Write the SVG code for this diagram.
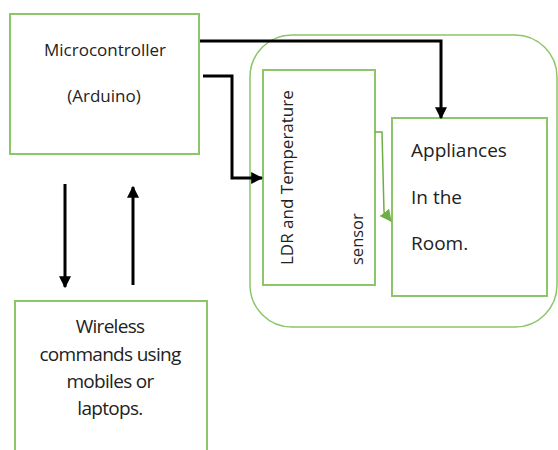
<svg xmlns="http://www.w3.org/2000/svg" width="558" height="450" viewBox="0 0 558 450">
<defs>
<style>
.box{fill:#fff;stroke:#8cc56a;stroke-width:2}
.t{font-family:"Open Sans","Liberation Sans",sans-serif;fill:#222}
.c{fill:none;stroke:#000;stroke-width:3}
</style>
<marker id="ah" viewBox="0 0 10 10" refX="9" refY="5" markerWidth="4" markerHeight="4" orient="auto" markerUnits="strokeWidth">
<path d="M0,0 L10,5 L0,10 z" fill="#000"/>
</marker>
<marker id="gh" viewBox="0 0 10 10" refX="9" refY="5" markerWidth="8" markerHeight="8" orient="auto" markerUnits="strokeWidth">
<path d="M0,0 L10,5 L0,10 z" fill="#70ad47"/>
</marker>
</defs>
<rect width="558" height="450" fill="#fff"/>
<g id="room">
<rect x="250" y="35" width="307" height="292" rx="42" ry="42" fill="#fff" stroke="#8cc56a" stroke-width="1.5"/>
</g>
<g id="microcontroller">
<rect class="box" x="10" y="14" width="189" height="140"/>
<text class="t" x="105" y="56" font-size="17" text-anchor="middle">Microcontroller</text>
<text class="t" x="104" y="102" font-size="17" text-anchor="middle">(Arduino)</text>
</g>
<g id="sensor">
<rect class="box" x="263" y="70" width="112" height="215"/>
<text class="t" font-size="17" transform="translate(293,265) rotate(-90)">LDR and Temperature</text>
<text class="t" font-size="16.5" transform="translate(363,265) rotate(-90)">sensor</text>
</g>
<g id="appliances">
<rect class="box" x="392" y="118" width="155" height="178"/>
<text class="t" x="411" y="157" font-size="19">Appliances</text>
<text class="t" x="411" y="204" font-size="19">In the</text>
<text class="t" x="411" y="250" font-size="19">Room.</text>
</g>
<g id="wireless">
<rect class="box" x="15" y="301" width="192" height="160"/>
<text class="t" x="110" y="333" font-size="19" text-anchor="middle" letter-spacing="-0.7">Wireless</text>
<text class="t" x="110" y="361" font-size="19" text-anchor="middle" letter-spacing="-0.7">commands using</text>
<text class="t" x="110" y="388" font-size="19" text-anchor="middle" letter-spacing="-0.7">mobiles or</text>
<text class="t" x="110" y="415" font-size="19" text-anchor="middle" letter-spacing="-0.7">laptops.</text>
</g>
<g id="connectors">
<path class="c" d="M200,41 H441 V118" marker-end="url(#ah)"/>
<path class="c" d="M203,76 H232 V178 H262" marker-end="url(#ah)"/>
<path class="c" d="M65,184 V287" marker-end="url(#ah)"/>
<path class="c" d="M133,285 V187" marker-end="url(#ah)"/>
<path d="M375,132 H382 L384,212 L391,221" fill="none" stroke="#70ad47" stroke-width="1.5" marker-end="url(#gh)"/>
</g>
</svg>
